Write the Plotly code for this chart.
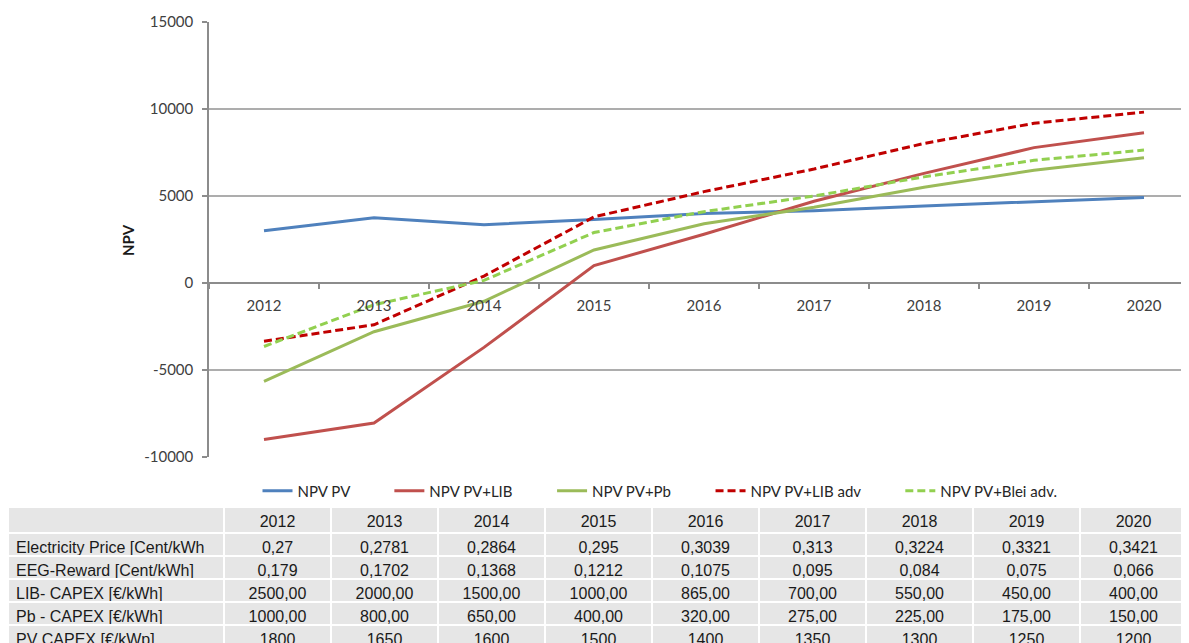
import plotly.graph_objects as go

years = ["2012", "2013", "2014", "2015", "2016", "2017", "2018", "2019", "2020"]

npv_pv = [3000, 3750, 3350, 3650, 4000, 4150, 4420, 4670, 4920]
npv_pv_lib = [-9000, -8050, -3700, 1000, 2800, 4700, 6300, 7780, 8640]
npv_pv_pb = [-5650, -2800, -1050, 1900, 3400, 4350, 5500, 6480, 7200]
npv_pv_lib_adv = [-3350, -2400, 400, 3800, 5250, 6550, 8020, 9180, 9820]
npv_pv_blei_adv = [-3650, -1250, 150, 2900, 4100, 5000, 6100, 7050, 7640]

series_names = ["NPV PV", "NPV PV+LIB", "NPV PV+Pb", "NPV PV+LIB adv", "NPV PV+Blei adv."]
series_values = [npv_pv, npv_pv_lib, npv_pv_pb, npv_pv_lib_adv, npv_pv_blei_adv]
series_colors = ["#4F81BD", "#C0504D", "#9BBB59", "#C00000", "#92D050"]
series_dash = ["solid", "solid", "solid", "8px,4px", "8px,4px"]

y_tick_values = [-10000, -5000, 0, 5000, 10000, 15000]
y_tick_labels = ["-10000", "-5000", "0", "5000", "10000", "15000"]

table_rows = [
    "Electricity Price [Cent/kWh",
    "EEG-Reward [Cent/kWh]",
    "LIB- CAPEX [€/kWh]",
    "Pb - CAPEX [€/kWh]",
    "PV CAPEX [€/kWp]",
]
electricity_price = ["0,27", "0,2781", "0,2864", "0,295", "0,3039", "0,313", "0,3224", "0,3321", "0,3421"]
eeg_reward = ["0,179", "0,1702", "0,1368", "0,1212", "0,1075", "0,095", "0,084", "0,075", "0,066"]
lib_capex = ["2500,00", "2000,00", "1500,00", "1000,00", "865,00", "700,00", "550,00", "450,00", "400,00"]
pb_capex = ["1000,00", "800,00", "650,00", "400,00", "320,00", "275,00", "225,00", "175,00", "150,00"]
pv_capex = ["1800", "1650", "1600", "1500", "1400", "1350", "1300", "1250", "1200"]
table_data = [electricity_price, eeg_reward, lib_capex, pb_capex, pv_capex]

# page body adds an 8px offset; work in figure coordinates
W, H = 1189, 643
OFF = 8
plot_left, plot_top, plot_bottom = 209 - OFF, 22 - OFF, 457 - OFF
cat_w = 110
ymin, ymax = -10000, 15000
ydom = [(H - plot_bottom) / H, (H - plot_top) / H]
zero_pos = ydom[0] + (0 - ymin) / (ymax - ymin) * (ydom[1] - ydom[0])
x_hi = -0.5 + (W - plot_left) / cat_w

pad = "\u00a0" * 9
fig = go.Figure()
for i, (name, vals, col, dash) in enumerate(zip(series_names, series_values, series_colors, series_dash)):
    fig.add_trace(go.Scatter(
        x=years, y=vals, name=name + (pad if i < len(series_names) - 1 else ""), mode="lines",
        line=dict(color=col, width=3, dash=dash),
        xaxis="x", yaxis="y",
    ))

table_top = 507 - OFF
table_right = 1187 - OFF
cols_vals = [table_rows] + [[row[i] for row in table_data] for i in range(len(years))]
tfont = dict(family="Liberation Sans, Arial", size=16, color="#1a1a1a")
fig.add_trace(go.Table(
    domain=dict(x=[0.0, table_right / W], y=[0, (H - table_top) / H]),
    columnwidth=[224 - OFF] + [107] * len(years),
    header=dict(
        values=[""] + years,
        fill_color="#E6E6E6",
        line=dict(color="white", width=2),
        align="center",
        height=26,
        font=tfont,
    ),
    cells=dict(
        values=cols_vals,
        fill_color="#E6E6E6",
        line=dict(color="white", width=2),
        align=["left"] + ["center"] * len(years),
        height=23,
        font=tfont,
    ),
))

fig.update_layout(
    width=W, height=H,
    margin=dict(l=0, r=0, t=0, b=0),
    paper_bgcolor="white", plot_bgcolor="white",
    font=dict(family="Lato, Open Sans, sans-serif", size=15, color="#404040"),
    showlegend=True,
    legend=dict(
        orientation="h", x=(660 - OFF) / W, xanchor="center", y=(H - (491 - OFF)) / H, yanchor="middle",
        font=dict(family="Lato, sans-serif", size=15, color="#262626"),
        bgcolor="rgba(0,0,0,0)",
    ),
    xaxis=dict(
        type="category", domain=[plot_left / W, 1.0], range=[-0.5, x_hi],
        anchor="free", position=zero_pos,
        showgrid=False, showline=False, zeroline=False,
        ticks="outside", ticklen=5, tickcolor="#8C8C8C", tickwidth=1.5,
        tickson="boundaries", automargin=False, ticklabelstandoff=12,
        tickfont=dict(family="Lato, sans-serif", size=15, color="#404040"),
    ),
    yaxis=dict(
        domain=ydom, range=[ymin, ymax],
        tickmode="array", tickvals=y_tick_values, ticktext=y_tick_labels,
        showgrid=True, gridcolor="#ADADAD", gridwidth=1.5,
        zeroline=True, zerolinecolor="#8C8C8C", zerolinewidth=1.5,
        showline=True, linecolor="#8C8C8C", linewidth=1.5,
        ticks="outside", ticklen=5, tickcolor="#8C8C8C", tickwidth=1.5,
        automargin=False, ticklabelstandoff=6,
        tickfont=dict(family="Lato, sans-serif", size=15, color="#404040"),
    ),
    annotations=[dict(
        text="<b>NPV</b>", x=(128 - OFF) / W, y=(H - (240 - OFF)) / H, xref="paper", yref="paper",
        xanchor="center", yanchor="middle",
        textangle=-90, showarrow=False,
        font=dict(family="Lato, sans-serif", size=15, color="#1a1a1a"),
    )],
)

fig.write_html("out.html")
